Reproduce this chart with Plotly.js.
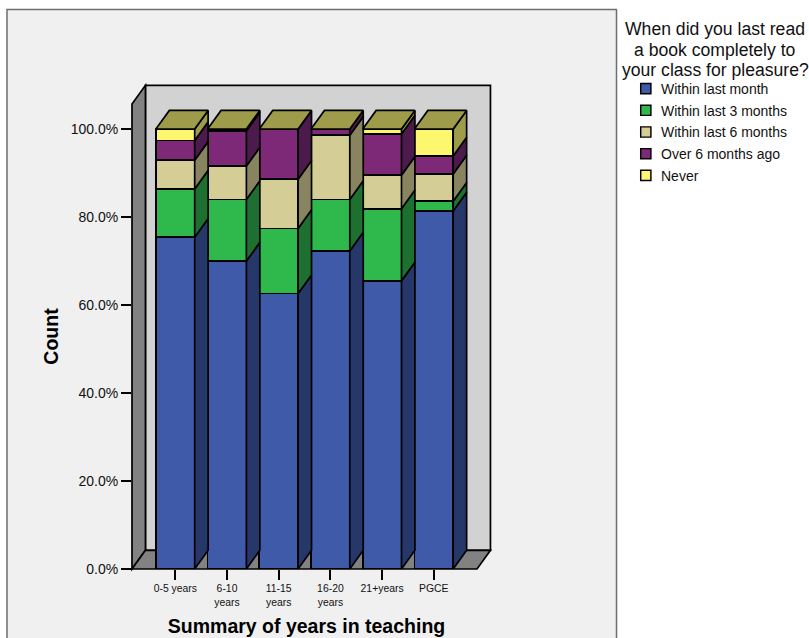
<!DOCTYPE html>
<html>
<head>
<meta charset="utf-8">
<script src="https://cdn.plot.ly/plotly-3.0.1.min.js"></script>
<style>html,body{margin:0;padding:0;background:#fff}#chart{width:809px;height:638px}</style>
</head>
<body>
<div id="chart"></div>
<script>
// Share of teachers (%) in each experience band
const categories = ['0-5 years', '6-10<br>years', '11-15<br>years', '16-20<br>years', '21+years', 'PGCE'];
const withinMonth  = [75.4, 70.0, 62.6, 72.3, 65.5, 81.4];
const within3      = [11.0, 14.0, 14.8, 11.7, 16.4, 2.2];
const within6      = [6.5, 7.6, 11.2, 14.6, 7.6, 6.2];
const over6        = [4.5, 8.0, 11.4, 1.4, 9.4, 4.1];
const never        = [2.6, 0.4, 0.0, 0.0, 1.1, 6.1];
const seriesNames  = ['Within last month', 'Within last 3 months', 'Within last 6 months', 'Over 6 months ago', 'Never'];
const seriesValues = [withinMonth, within3, within6, over6, never];
const frontColors  = ['#3F5AA9', '#2FB84B', '#D4CE96', '#7E2878', '#FCF76E'];
const sideColors   = ['#26376A', '#1E7031', '#88845F', '#4C1A4D', '#9E9C4A'];
const topColor = '#9E9C4A';
const wallColor = '#D2D2D2', sideWallColor = '#828282', panelColor = '#F0F0F0';
const legendTitle = ['When did you last read', 'a book completely to', 'your class for pleasure?'];
const percentTicks = [0, 20, 40, 60, 80, 100];
const percentLabels = ['0.0%', '20.0%', '40.0%', '60.0%', '80.0%', '100.0%'];

// Page geometry of the front plane of the 3-D box
const W = 809, H = 638;
const plotL = 132, plotR = 481, plotT = 104, plotB = 569;
const barW = 0.75, depthX = 0.26, depthY = 4.25;
const xLo = -0.8375, xHi = 5.836, yTop = 105.7;
const xRange = [xLo, 5.913];
const paperX = px => (px - plotL) / (plotR - plotL);
const paperY = py => (plotB - py) / (plotB - plotT);
// Axis units to paper fractions, for the box walls that reach past the plot area
const dataX = v => (v - xRange[0]) / (xRange[1] - xRange[0]);
const dataY = v => v / yTop;

const ink = '#000';
const edge = {color: ink, width: 1.7};
const face = (x, y, color) => ({
  type: 'scatter', mode: 'lines', x, y, fill: 'toself', fillcolor: color,
  line: edge, hoverinfo: 'skip', showlegend: false, cliponaxis: false
});
const wall = (pts, color) => ({
  type: 'path', xref: 'paper', yref: 'paper', layer: 'below',
  path: 'M' + pts.map(p => dataX(p[0]) + ',' + dataY(p[1])).join('L') + 'Z',
  fillcolor: color, line: edge
});

const traces = [];
// Front faces as stacked bars
seriesValues.forEach((vals, s) => {
  traces.push({
    type: 'bar', name: seriesNames[s], x: categories.map((c, i) => i), y: vals,
    width: barW, legendgroup: 'g' + s, hoverinfo: 'skip', cliponaxis: false,
    marker: {color: frontColors[s], line: edge}
  });
});

// Side faces for each stacked segment
const running = categories.map(() => 0);
seriesValues.forEach((vals, s) => {
  const xs = [], ys = [];
  vals.forEach((v, i) => {
    const lo = running[i], hi = lo + v;
    running[i] = hi;
    if (v <= 0) return;
    const r = i + barW / 2;
    xs.push(r, r + depthX, r + depthX, r, r, null);
    ys.push(lo, lo + depthY, hi + depthY, hi, lo, null);
  });
  traces.push(face(xs, ys, sideColors[s]));
});

// Top faces sit on the stack totals
const topX = [], topY = [];
running.forEach((t, i) => {
  const l = i - barW / 2, r = i + barW / 2;
  topX.push(l, r, r + depthX, l + depthX, l, null);
  topY.push(t, t, t + depthY, t + depthY, t, null);
});
traces.push(face(topX, topY, topColor));

const titleFont = {family: 'Liberation Sans, Arial, sans-serif', size: 19.5, color: '#000', weight: 700};
const layout = {
  width: W, height: H,
  margin: {l: plotL, r: W - plotR, t: plotT, b: H - plotB, pad: 0, autoexpand: false},
  paper_bgcolor: '#fff', plot_bgcolor: 'rgba(0,0,0,0)',
  font: {family: 'Liberation Sans, Arial, sans-serif', color: '#111'},
  barmode: 'stack', bargap: 0.25,
  xaxis: {
    range: xRange, tickmode: 'array', tickvals: categories.map((c, i) => i), ticktext: categories,
    ticks: 'outside', ticklen: 10, tickwidth: 1.5, tickcolor: ink, tickangle: 0,
    tickfont: {size: 10.4}, showgrid: false, zeroline: false, showline: false, fixedrange: true,
    title: {text: 'Summary of years in teaching', font: titleFont, standoff: 12}
  },
  yaxis: {
    range: [0, yTop], tickmode: 'array', tickvals: percentTicks, ticktext: percentLabels,
    ticks: 'outside', ticklen: 10, tickwidth: 1.5, tickcolor: ink,
    tickfont: {size: 14}, showgrid: false, zeroline: false, showline: false, fixedrange: true,
    title: {text: 'Count', font: titleFont, standoff: 6}
  },
  legend: {
    x: paperX(616), y: paperY(73), xanchor: 'left', yanchor: 'top',
    bgcolor: 'rgba(0,0,0,0)', traceorder: 'grouped', tracegroupgap: 0.5,
    itemwidth: 35, font: {size: 14, color: '#111'}, itemclick: false, itemdoubleclick: false
  },
  shapes: [
    {
      type: 'rect', xref: 'paper', yref: 'paper', layer: 'below',
      x0: paperX(7), x1: paperX(616.5), y0: paperY(650), y1: paperY(9.5),
      fillcolor: panelColor, line: {color: '#6E6E6E', width: 1.5}
    },
    // Back wall, left wall and floor of the box
    wall([[xLo + depthX, depthY], [xHi + depthX, depthY], [xHi + depthX, yTop + depthY], [xLo + depthX, yTop + depthY]], wallColor),
    wall([[xLo, 0], [xLo + depthX, depthY], [xLo + depthX, yTop + depthY], [xLo, yTop]], sideWallColor),
    wall([[xLo, 0], [xHi, 0], [xHi + depthX, depthY], [xLo + depthX, depthY]], sideWallColor)
  ],
  annotations: legendTitle.map((line, k) => ({
    xref: 'paper', yref: 'paper', x: paperX(715), y: paperY(29 + k * 20.7),
    xanchor: 'center', yanchor: 'middle', showarrow: false, text: line,
    font: {size: 17.6, color: '#111'}
  }))
};

// Smaller swatches set closer to their labels than the legend's own spacing allows
function placeSwatches(gd) {
  gd.querySelectorAll('.legend .traces').forEach(item => {
    const pts = item.querySelectorAll('.legendpoints path');
    pts.forEach(p => {
      p.style.transform = 'translate(29.8px,0px) scale(0.85)';
      p.setAttribute('transform', 'translate(29.8,0) scale(0.85)');
    });
  });
}
const chart = document.getElementById('chart');
Plotly.newPlot(chart, traces, layout, {displayModeBar: false}).then(gd => {
  placeSwatches(gd);
  gd.on('plotly_afterplot', () => placeSwatches(gd));
  requestAnimationFrame(() => placeSwatches(gd));
});
</script>
</body>
</html>
